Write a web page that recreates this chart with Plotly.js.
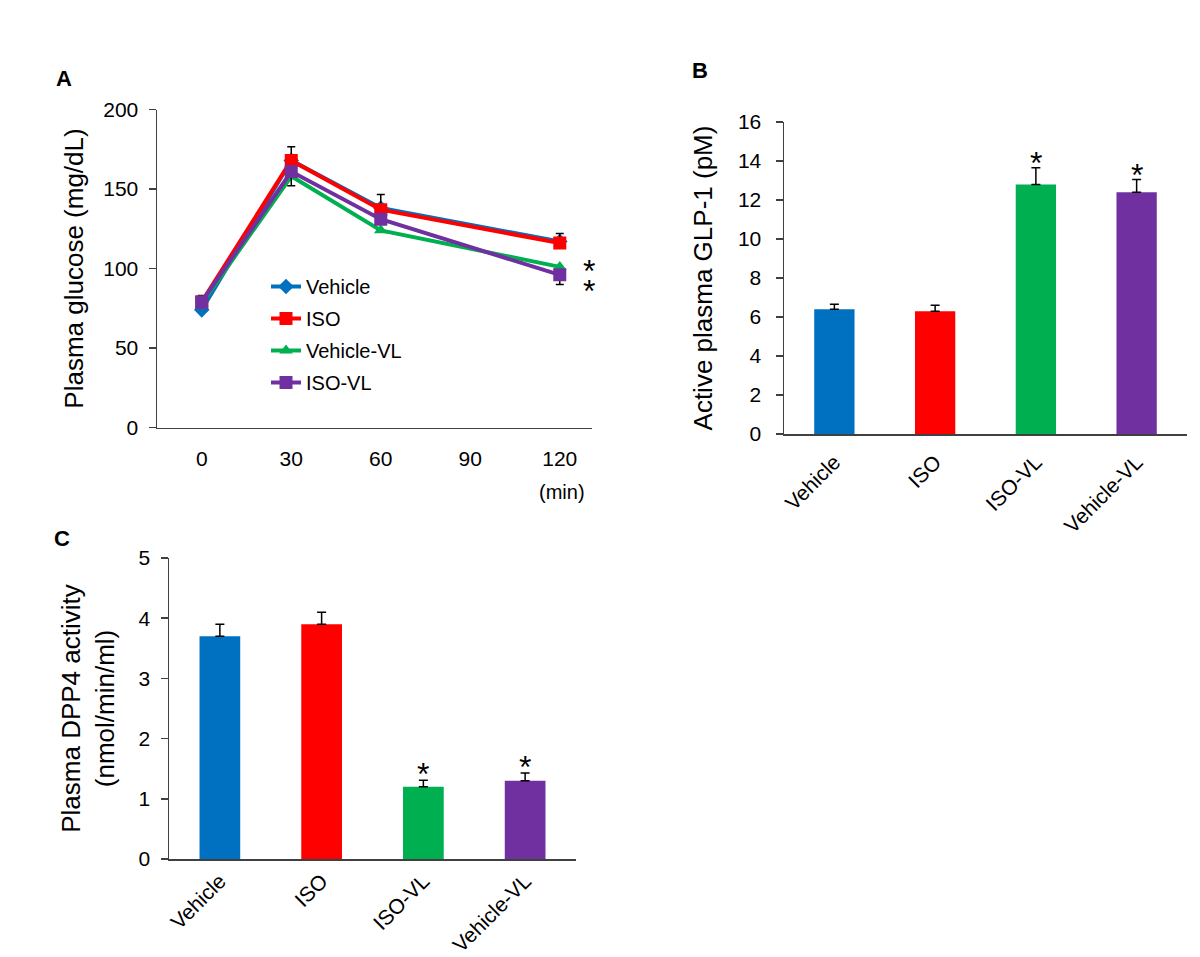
<!DOCTYPE html>
<html>
<head>
<meta charset="utf-8">
<script src="https://cdn.plot.ly/plotly-3.0.1.min.js"></script>
<style>html,body{margin:0;padding:0;background:#fff;}#chart{width:1200px;height:957px;}</style>
</head>
<body>
<div id="chart"></div>
<script>
// ---- Panel A data (plasma glucose, mg/dL) ----
const timePoints = [0, 30, 60, 120];
const timeTicks = [0, 30, 60, 90, 120];
const seriesNames = ['Vehicle', 'ISO', 'Vehicle-VL', 'ISO-VL'];
const glucoseVehicle = [74, 168, 138, 117];
const glucoseISO = [79, 168, 137, 116];
const glucoseVehicleVL = [78, 158, 124, 101];
const glucoseISOVL = [79, 161, 131, 96];
const glucoseISOErrUp = [4, 8.5, 9.5, 6];
const glucoseISOVLErrDown = [0, 9, 0, 6];
const glucoseSignificantCount = 2; // Vehicle-VL and ISO-VL at 120 min

// ---- Panel B / C data ----
const groups = ['Vehicle', 'ISO', 'ISO-VL', 'Vehicle-VL'];
const glp1 = [6.4, 6.3, 12.8, 12.4];
const glp1Err = [0.25, 0.3, 0.85, 0.65];
const dpp4 = [3.7, 3.9, 1.2, 1.3];
const dpp4Err = [0.2, 0.2, 0.11, 0.13];
const barSignificant = [false, false, true, true];

const C_BLUE = '#0070C0', C_RED = '#FF0000', C_GREEN = '#00B050', C_PURPLE = '#7030A0';
const barColors = [C_BLUE, C_RED, C_GREEN, C_PURPLE];
const AX = '#404040';
const FONT = 'Liberation Sans, Arial, sans-serif';

const W = 1200, H = 957;
const px = v => v / W;
const py = v => 1 - v / H;

function lineTrace(name, y, color, symbol, size, err) {
  const t = {
    x: timePoints, y: y, name: name, type: 'scatter', mode: 'lines+markers',
    xaxis: 'x', yaxis: 'y', legendgroup: name,
    line: {color: color, width: 4},
    marker: {color: color, symbol: symbol, size: size}
  };
  if (err) t.error_y = Object.assign({type: 'data', symmetric: false, color: '#000', thickness: 1.5, width: 4}, err);
  return t;
}

const traces = [
  lineTrace(seriesNames[0], glucoseVehicle, C_BLUE, 'diamond', 12),
  lineTrace(seriesNames[1], glucoseISO, C_RED, 'square', 13, {array: glucoseISOErrUp, arrayminus: [0,0,0,0]}),
  lineTrace(seriesNames[2], glucoseVehicleVL, C_GREEN, 'triangle-up', 12),
  lineTrace(seriesNames[3], glucoseISOVL, C_PURPLE, 'square', 13, {array: [0,0,0,0], arrayminus: glucoseISOVLErrDown}),
  {
    x: groups, y: glp1, type: 'bar', xaxis: 'x2', yaxis: 'y2', showlegend: false,
    marker: {color: barColors},
    error_y: {type: 'data', symmetric: false, array: glp1Err, arrayminus: [0,0,0,0], color: '#000', thickness: 1.5, width: 4.5}
  },
  {
    x: groups, y: dpp4, type: 'bar', xaxis: 'x3', yaxis: 'y3', showlegend: false,
    marker: {color: barColors},
    error_y: {type: 'data', symmetric: false, array: dpp4Err, arrayminus: [0,0,0,0], color: '#000', thickness: 1.5, width: 4.5}
  }
];

const annotations = [];
// panel letters
[['A', 64, 79], ['B', 700, 71], ['C', 62, 538]].forEach(([t, x, y]) => {
  annotations.push({text: '<b>' + t + '</b>', xref: 'paper', yref: 'paper', x: px(x), y: py(y),
    xanchor: 'center', yanchor: 'middle', showarrow: false, font: {size: 22, color: '#000', family: FONT}});
});
// (min) unit label
annotations.push({text: '(min)', xref: 'x', yref: 'paper', x: 120, y: py(492), xshift: 2,
  xanchor: 'center', yanchor: 'middle', showarrow: false, font: {size: 20, color: '#000', family: FONT}});
// significance markers panel A (stacked asterisks next to the 120-min points)
const star = '<span style="font-size:32px">*</span>';
annotations.push({text: Array(glucoseSignificantCount).fill(star).join('<br>'), xref: 'x', yref: 'y',
  x: timePoints[timePoints.length - 1], y: glucoseVehicleVL[glucoseVehicleVL.length - 1],
  xshift: 29, yshift: 16, xanchor: 'center', yanchor: 'top', showarrow: false,
  font: {size: 15, color: '#000', family: FONT}});
// significance markers panels B, C
groups.forEach((g, i) => {
  if (!barSignificant[i]) return;
  annotations.push({text: '*', xref: 'x2', yref: 'y2', x: g, y: glp1[i] + glp1Err[i], yshift: -15,
    xanchor: 'center', yanchor: 'bottom', showarrow: false, font: {size: 32, color: '#000', family: FONT}});
  annotations.push({text: '*', xref: 'x3', yref: 'y3', x: g, y: dpp4[i] + dpp4Err[i], yshift: -14,
    xanchor: 'center', yanchor: 'bottom', showarrow: false, font: {size: 32, color: '#000', family: FONT}});
});

const yBase = {showline: true, linecolor: AX, linewidth: 1.5, ticks: 'outside', ticklen: 7, tickwidth: 1.5, tickcolor: AX,
  showgrid: false, zeroline: false, tickfont: {size: 21, color: '#000', family: FONT}, ticklabelstandoff: 6};
const xBase = {showline: true, linecolor: AX, linewidth: 1.5, ticks: '', showgrid: false, zeroline: false,
  tickfont: {size: 21, color: '#000', family: FONT}};
const titleFont = {size: 26, color: '#000', family: FONT};

const layout = {
  width: W, height: H,
  margin: {l: 0, r: 0, t: 0, b: 0},
  paper_bgcolor: '#fff', plot_bgcolor: 'rgba(0,0,0,0)',
  font: {family: FONT, color: '#000'},
  bargap: 0.6,
  showlegend: true,
  legend: {x: px(266), y: py(267), xanchor: 'left', yanchor: 'top', bgcolor: 'rgba(0,0,0,0)',
    font: {size: 20, color: '#000', family: FONT}, traceorder: 'grouped', tracegroupgap: 3},
  xaxis: Object.assign({}, xBase, {domain: [px(157), px(592)], range: [-15, 130.8], tickmode: 'array', tickvals: timeTicks,
    anchor: 'y', ticklabelstandoff: 12}),
  yaxis: Object.assign({}, yBase, {domain: [py(427.5), py(109.5)], range: [0, 200], dtick: 50, anchor: 'x',
    title: {text: 'Plasma glucose (mg/dL)', font: titleFont, standoff: 12}}),
  xaxis2: Object.assign({}, xBase, {domain: [px(784), px(1187)], range: [-0.5, 3.5], type: 'category', tickangle: -45,
    anchor: 'y2', ticklabelstandoff: 6}),
  yaxis2: Object.assign({}, yBase, {domain: [py(434), py(122)], range: [0, 16], dtick: 2, anchor: 'x2', ticklabelstandoff: 10,
    title: {text: 'Active plasma GLP-1 (pM)', font: titleFont, standoff: 18}}),
  xaxis3: Object.assign({}, xBase, {domain: [px(169), px(576)], range: [-0.5, 3.5], type: 'category', tickangle: -45,
    anchor: 'y3', ticklabelstandoff: 0}),
  yaxis3: Object.assign({}, yBase, {domain: [py(859), py(558)], range: [0, 5], dtick: 1, anchor: 'x3',
    title: {text: 'Plasma DPP4 activity<br>(nmol/min/ml)', font: titleFont, standoff: 16}}),
  annotations: annotations
};

Plotly.newPlot('chart', traces, layout, {displayModeBar: false, staticPlot: true});
</script>
</body>
</html>
